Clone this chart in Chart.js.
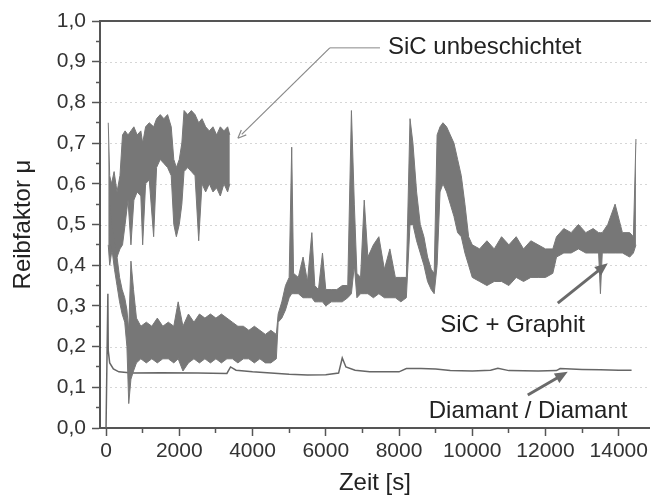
<!DOCTYPE html>
<html>
<head>
<meta charset="utf-8">
<script src="https://cdn.jsdelivr.net/npm/chart.js@4.4.1/dist/chart.umd.min.js"></script>
<style>
html, body { margin: 0; padding: 0; background: #fff; }
</style>
</head>
<body>
<canvas id="reibChart" width="651" height="501"></canvas>
<script>
// SiC unbeschichtet: time [s], upper and lower edge of the noisy band
const sicTime = [60, 100, 150, 220, 300, 380, 450, 520, 600, 680, 760, 850, 950, 1000, 1080, 1180, 1300, 1380, 1480, 1580,
    1680, 1780, 1850, 1920, 2000, 2070, 2130, 2230, 2330, 2430, 2530, 2620, 2720, 2820, 2920, 3020, 3120, 3220, 3320, 3380];
const sicHigh = [0.75, 0.62, 0.60, 0.63, 0.58, 0.62, 0.72, 0.73, 0.72, 0.73, 0.74, 0.72, 0.73, 0.70, 0.74, 0.75, 0.74, 0.76, 0.77, 0.76,
    0.77, 0.74, 0.66, 0.64, 0.66, 0.70, 0.78, 0.77, 0.78, 0.77, 0.75, 0.76, 0.74, 0.73, 0.74, 0.72, 0.74, 0.73, 0.74, 0.72];
const sicLow = [0.45, 0.40, 0.43, 0.44, 0.42, 0.44, 0.45, 0.50, 0.56, 0.45, 0.56, 0.58, 0.57, 0.45, 0.60, 0.61, 0.47, 0.64, 0.66, 0.65,
    0.64, 0.62, 0.50, 0.47, 0.50, 0.55, 0.63, 0.64, 0.63, 0.62, 0.46, 0.60, 0.58, 0.60, 0.58, 0.59, 0.57, 0.60, 0.58, 0.60];

// SiC + Graphit
const grTime = [100, 160, 230, 300, 370, 440, 510, 570, 620, 680, 750, 830, 950, 1100, 1250, 1400, 1550, 1700, 1850, 1970,
    2100, 2250, 2400, 2550, 2700, 2850, 3000, 3150, 3300, 3450, 3600, 3750, 3900, 4050, 4200, 4350, 4500, 4650, 4700, 4800,
    4900, 5000, 5070, 5120, 5250, 5380, 5500, 5620, 5700, 5800, 5910, 6000, 6150, 6300, 6450, 6600, 6700, 6780, 6850, 6950,
    7050, 7150, 7300, 7450, 7600, 7750, 7900, 8050, 8200, 8300, 8380, 8480, 8580, 8680, 8780, 8880, 8960, 9040, 9120, 9200,
    9300, 9400, 9500, 9600, 9700, 9800, 9900, 10000, 10200, 10400, 10600, 10800, 11000, 11200, 11400, 11600, 11800, 12000, 12200, 12300,
    12500, 12700, 12900, 13100, 13300, 13450, 13500, 13550, 13700, 13900, 14100, 14300, 14400, 14470];
const grHigh = [0.56, 0.50, 0.46, 0.42, 0.37, 0.34, 0.32, 0.29, 0.24, 0.41, 0.34, 0.27, 0.25, 0.26, 0.25, 0.27, 0.25, 0.26, 0.25, 0.31,
    0.25, 0.28, 0.26, 0.28, 0.27, 0.28, 0.27, 0.28, 0.27, 0.26, 0.25, 0.25, 0.24, 0.25, 0.24, 0.23, 0.24, 0.23, 0.28, 0.31,
    0.35, 0.37, 0.69, 0.38, 0.37, 0.42, 0.36, 0.48, 0.35, 0.34, 0.43, 0.34, 0.34, 0.34, 0.35, 0.35, 0.78, 0.55, 0.38, 0.37,
    0.56, 0.42, 0.45, 0.47, 0.39, 0.44, 0.37, 0.37, 0.37, 0.76, 0.70, 0.58, 0.50, 0.47, 0.42, 0.39, 0.38, 0.72, 0.74, 0.75,
    0.74, 0.72, 0.70, 0.66, 0.62, 0.55, 0.47, 0.45, 0.44, 0.46, 0.44, 0.47, 0.45, 0.47, 0.44, 0.46, 0.45, 0.44, 0.44, 0.47,
    0.49, 0.48, 0.50, 0.48, 0.49, 0.48, 0.48, 0.48, 0.50, 0.55, 0.48, 0.48, 0.47, 0.71];
const grLow = [0.46, 0.44, 0.39, 0.35, 0.31, 0.28, 0.26, 0.20, 0.06, 0.12, 0.14, 0.16, 0.17, 0.16, 0.17, 0.16, 0.17, 0.17, 0.16, 0.17,
    0.14, 0.16, 0.17, 0.16, 0.17, 0.16, 0.17, 0.16, 0.17, 0.17, 0.16, 0.17, 0.17, 0.16, 0.17, 0.16, 0.16, 0.17, 0.26, 0.27,
    0.29, 0.32, 0.33, 0.33, 0.33, 0.32, 0.32, 0.32, 0.31, 0.31, 0.31, 0.30, 0.31, 0.31, 0.31, 0.32, 0.33, 0.40, 0.32, 0.33,
    0.33, 0.33, 0.32, 0.33, 0.32, 0.32, 0.32, 0.31, 0.32, 0.50, 0.50, 0.46, 0.43, 0.40, 0.36, 0.34, 0.33, 0.40, 0.58, 0.60,
    0.58, 0.55, 0.52, 0.48, 0.47, 0.43, 0.40, 0.37, 0.36, 0.35, 0.36, 0.36, 0.35, 0.37, 0.36, 0.37, 0.37, 0.37, 0.38, 0.42,
    0.43, 0.43, 0.44, 0.43, 0.43, 0.43, 0.33, 0.43, 0.43, 0.43, 0.43, 0.42, 0.43, 0.45];

// Diamant / Diamant
const diaTime = [0, 50, 60, 100, 200, 350, 700, 1500, 2500, 3300, 3400, 3550, 4000, 5000, 5500, 6000, 6350, 6450, 6550, 6800,
    7200, 8000, 8200, 8600, 9000, 9400, 10000, 10500, 10700, 11000, 11800, 12300, 12400, 13000, 13500, 14000, 14350];
const diaVal = [0.0, 0.33, 0.19, 0.16, 0.145, 0.138, 0.135, 0.136, 0.135, 0.134, 0.15, 0.142, 0.138, 0.132, 0.13, 0.131, 0.135, 0.172, 0.15, 0.142,
    0.138, 0.138, 0.146, 0.146, 0.145, 0.141, 0.14, 0.142, 0.147, 0.141, 0.14, 0.141, 0.146, 0.144, 0.143, 0.142, 0.142];

const xTicks = [0, 1000, 2000, 3000, 4000, 5000, 6000, 7000, 8000, 9000, 10000, 11000, 12000, 13000, 14000];
const yTicks = [0, 0.05, 0.1, 0.15, 0.2, 0.25, 0.3, 0.35, 0.4, 0.45, 0.5, 0.55, 0.6, 0.65, 0.7, 0.75, 0.8, 0.85, 0.9, 0.95, 1.0];

const tickFont = { family: '"Liberation Sans", Arial, sans-serif', size: 21 };
const titleFont = { family: '"Liberation Sans", Arial, sans-serif', size: 24 };
const bandColor = '#777777';

function toPoints(xs, ys) {
    return xs.map((x, i) => ({ x: x, y: ys[i] }));
}

function isMajorY(v) {
    return Math.round(v * 20) % 2 === 0;
}

function isMajorX(v) {
    return Math.round(v) % 2000 === 0;
}

function drawArrow(ctx, x1, y1, x2, y2, width, head, filled) {
    let ang = Math.atan2(y2 - y1, x2 - x1);
    ctx.lineWidth = width;
    ctx.beginPath();
    ctx.moveTo(x1, y1);
    ctx.lineTo(x2 - Math.cos(ang) * head * 0.6, y2 - Math.sin(ang) * head * 0.6);
    ctx.stroke();
    ctx.beginPath();
    ctx.moveTo(x2, y2);
    ctx.lineTo(x2 - head * Math.cos(ang - 0.4), y2 - head * Math.sin(ang - 0.4));
    if (filled) {
        ctx.lineTo(x2 - head * Math.cos(ang + 0.4), y2 - head * Math.sin(ang + 0.4));
        ctx.closePath();
        ctx.fill();
    } else {
        ctx.moveTo(x2, y2);
        ctx.lineTo(x2 - head * Math.cos(ang + 0.4), y2 - head * Math.sin(ang + 0.4));
        ctx.stroke();
    }
}

// faint dotted lines at the labelled y ticks
const gridPlugin = {
    id: 'faintGrid',
    beforeDatasetsDraw(chart) {
        const { ctx, chartArea } = chart;
        const ys = chart.scales.y;
        ctx.save();
        ctx.strokeStyle = 'rgba(0,0,0,0.16)';
        ctx.lineWidth = 1;
        ctx.setLineDash([2, 3]);
        yTicks.filter(v => isMajorY(v) && v > 0 && v < 1).forEach(v => {
            let y = Math.round(ys.getPixelForValue(v)) + 0.5;
            ctx.beginPath();
            ctx.moveTo(chartArea.left, y);
            ctx.lineTo(chartArea.right, y);
            ctx.stroke();
        });
        ctx.restore();
    }
};

// labels and arrows, placed in data units
const notesPlugin = {
    id: 'notes',
    afterDraw(chart) {
        const { ctx, chartArea } = chart;
        const xs = chart.scales.x, ys = chart.scales.y;
        const px = v => xs.getPixelForValue(v);
        const py = v => ys.getPixelForValue(v);
        ctx.save();
        // top frame line
        ctx.strokeStyle = '#555';
        ctx.lineWidth = 2;
        ctx.beginPath();
        ctx.moveTo(chartArea.left - 1, chartArea.top);
        ctx.lineTo(chartArea.right + 1, chartArea.top);
        ctx.stroke();

        ctx.font = '24px "Liberation Sans", Arial, sans-serif';
        ctx.fillStyle = '#222';
        ctx.textBaseline = 'middle';
        ctx.textAlign = 'left';
        ctx.fillText('SiC unbeschichtet', px(7700), py(0.934));
        ctx.textAlign = 'center';
        ctx.fillText('SiC + Graphit', px(11100), py(0.252));
        ctx.fillText('Diamant / Diamant', px(11525), py(0.041));

        // thin leader to the SiC unbeschichtet band
        ctx.strokeStyle = '#888';
        ctx.lineWidth = 1;
        ctx.beginPath();
        ctx.moveTo(px(7480), py(0.934));
        ctx.lineTo(px(6110), py(0.934));
        ctx.stroke();
        drawArrow(ctx, px(6110), py(0.934), px(3600), py(0.712), 1.2, 9, false);

        // thick arrows
        ctx.strokeStyle = '#6a6a6a';
        ctx.fillStyle = '#6a6a6a';
        drawArrow(ctx, px(12335), py(0.307), px(13700), py(0.405), 3, 14, true);
        drawArrow(ctx, px(11516), py(0.081), px(12608), py(0.138), 3, 14, true);
        ctx.restore();
    }
};

const ctx = document.querySelector('#reibChart');
const data = {
    datasets: [
        {
            label: 'SiC + Graphit max',
            data: toPoints(grTime, grHigh),
            borderColor: bandColor,
            borderWidth: 1,
            pointRadius: 0,
            fill: false
        },
        {
            label: 'SiC + Graphit min',
            data: toPoints(grTime, grLow),
            borderColor: bandColor,
            backgroundColor: bandColor,
            borderWidth: 1,
            pointRadius: 0,
            fill: '-1'
        },
        {
            label: 'SiC unbeschichtet max',
            data: toPoints(sicTime, sicHigh),
            borderColor: bandColor,
            borderWidth: 1,
            pointRadius: 0,
            fill: false
        },
        {
            label: 'SiC unbeschichtet min',
            data: toPoints(sicTime, sicLow),
            borderColor: bandColor,
            backgroundColor: bandColor,
            borderWidth: 1,
            pointRadius: 0,
            fill: '-1'
        },
        {
            label: 'Diamant / Diamant',
            data: toPoints(diaTime, diaVal),
            borderColor: '#666',
            borderWidth: 1.5,
            pointRadius: 0,
            fill: false
        }
    ]
};

const config = {
    type: 'line',
    data: data,
    options: {
        responsive: false,
        animation: false,
        layout: { padding: { top: 21, right: 1, left: 0, bottom: 0 } },
        plugins: {
            legend: { display: false },
            tooltip: { enabled: false }
        },
        scales: {
            x: {
                type: 'linear',
                min: -165,
                max: 14850,
                afterBuildTicks: s => { s.ticks = xTicks.map(v => ({ value: v })); },
                afterFit: s => { s.height = 73; },
                ticks: {
                    autoSkip: false,
                    maxRotation: 0,
                    padding: 3,
                    color: '#333',
                    font: tickFont,
                    callback: v => isMajorX(v) ? String(v) : ''
                },
                grid: {
                    drawOnChartArea: false,
                    tickLength: 8,
                    tickColor: '#555',
                    tickWidth: 1.5,
                    tickBorderDash: c => isMajorX(c.tick.value) ? [] : [4, 100]
                },
                border: { color: '#555', width: 2 },
                title: {
                    display: true,
                    text: 'Zeit [s]',
                    color: '#222',
                    font: titleFont,
                    padding: { top: 0, bottom: 3 }
                }
            },
            y: {
                min: 0,
                max: 1,
                afterBuildTicks: s => { s.ticks = yTicks.map(v => ({ value: v })); },
                afterFit: s => { s.width = 100; },
                ticks: {
                    autoSkip: false,
                    padding: 6,
                    color: '#333',
                    font: tickFont,
                    callback: v => isMajorY(v) ? v.toFixed(1).replace('.', ',') : ''
                },
                grid: {
                    drawOnChartArea: false,
                    tickLength: 8,
                    tickColor: '#555',
                    tickWidth: 1.5,
                    tickBorderDash: c => isMajorY(c.tick.value) ? [] : [4, 100],
                    tickBorderDashOffset: c => isMajorY(c.tick.value) ? 0 : 100
                },
                border: { color: '#555', width: 2 },
                title: {
                    display: true,
                    text: 'Reibfaktor μ',
                    color: '#222',
                    font: titleFont,
                    padding: { top: 9, bottom: 0 }
                }
            }
        }
    },
    plugins: [gridPlugin, notesPlugin]
};
new Chart(ctx, config);
</script>
</body>
</html>
